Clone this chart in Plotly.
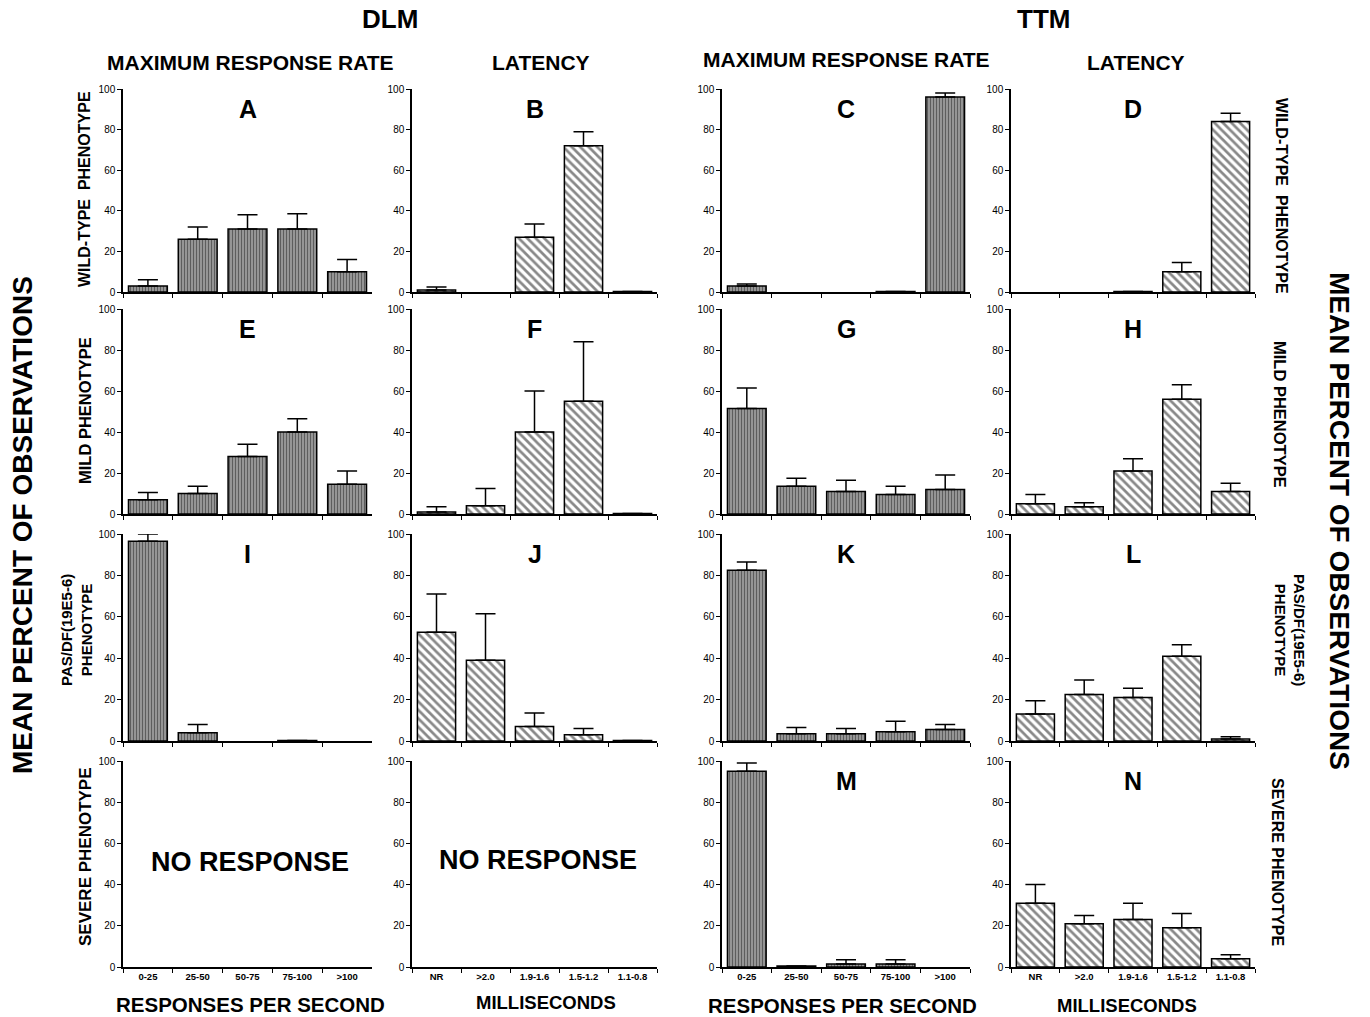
import plotly.graph_objects as go

W, H = 1370, 1017

rate_cats = ["0-25", "25-50", "50-75", "75-100", ">100"]
lat_cats = ["NR", ">2.0", "1.9-1.6", "1.5-1.2", "1.1-0.8"]

# panel values (mean %) and upper error (SE)
A_val = [3, 26, 31, 31, 10];        A_err = [3, 6, 7, 7.5, 6]
B_val = [1, 0, 27, 72, 0.3];        B_err = [1.5, None, 6.5, 7, None]
C_val = [3, 0, 0, 0.3, 96];         C_err = [1, None, None, None, 2]
D_val = [0, 0, 0.2, 10, 84];        D_err = [None, None, None, 4.5, 4]
E_val = [7, 10, 28, 40, 14.5];      E_err = [3.5, 3.5, 6, 6.5, 6.5]
F_val = [1, 4, 40, 55, 0.3];        F_err = [2.5, 8.5, 20, 29, None]
G_val = [51.5, 13.5, 11, 9.5, 12];  G_err = [10, 4, 5.5, 4, 7]
H_val = [5, 3.5, 21, 56, 11];       H_err = [4.5, 2, 6, 7, 4]
I_val = [96.5, 4, 0, 0.2, 0];       I_err = [3.5, 4, None, None, None]
J_val = [52.5, 39, 7, 3, 0.2];      J_err = [18.5, 22.5, 6.5, 3, None]
K_val = [82.5, 3.5, 3.5, 4.5, 5.5]; K_err = [4, 3, 2.5, 5, 2.5]
L_val = [13, 22.5, 21, 41, 1];      L_err = [6.5, 7, 4.5, 5.5, 1]
M_val = [95, 0.5, 1.5, 1.5, 0];     M_err = [4, None, 2, 2, None]
N_val = [31, 21, 23, 19, 4];        N_err = [9, 4, 8, 7, 2]
S_val = [0, 0, 0, 0, 0]             # severe DLM: no response

panels = [
    ["A", A_val, A_err], ["B", B_val, B_err], ["C", C_val, C_err], ["D", D_val, D_err],
    ["E", E_val, E_err], ["F", F_val, F_err], ["G", G_val, G_err], ["H", H_val, H_err],
    ["I", I_val, I_err], ["J", J_val, J_err], ["K", K_val, K_err], ["L", L_val, L_err],
    ["", S_val, [None]*5], ["", S_val, [None]*5], ["M", M_val, M_err], ["N", N_val, N_err],
]

col_px = [(123, 372), (412, 657), (722, 970), (1011, 1255)]
row_px = [(89, 292), (309, 514), (534, 741), (761, 967)]

FONT = "Liberation Sans, Arial, sans-serif"

fig = go.Figure()
annotations = []

for idx, (letter, vals, errs) in enumerate(panels):
    r, c = divmod(idx, 4)
    cats = rate_cats if c in (0, 2) else lat_cats
    n = idx + 1
    xa = "x" if n == 1 else f"x{n}"
    ya = "y" if n == 1 else f"y{n}"
    if c in (0, 2):
        pattern = dict(shape="|", fgcolor="#1a1a1a", bgcolor="#a0a0a0", size=3, solidity=0.45)
    else:
        pattern = dict(shape="\\", fgcolor="#111111", bgcolor="white", size=6, solidity=0.45)
    shown = [v if v else None for v in vals]
    fig.add_trace(go.Bar(
        x=cats, y=shown, xaxis=xa, yaxis=ya,
        marker=dict(color="white", line=dict(color="black", width=1.5), pattern=pattern),
        error_y=dict(type="data", symmetric=False, array=errs,
                     arrayminus=[0]*5, color="black", thickness=1.5, width=10),
        showlegend=False, hoverinfo="x+y",
    ))
    x0, x1 = col_px[c]
    y0, y1 = row_px[r]
    xdom = [x0 / W, x1 / W]
    ydom = [1 - y1 / H, 1 - y0 / H]
    xkey = "xaxis" if n == 1 else f"xaxis{n}"
    ykey = "yaxis" if n == 1 else f"yaxis{n}"
    fig.update_layout({
        xkey: dict(domain=xdom, anchor=ya, type="category", categoryarray=cats,
                   range=[-0.5, 4.5], showline=True, linecolor="black", linewidth=1.5,
                   ticks="outside", tickson="boundaries", ticklen=4, tickcolor="black",
                   showticklabels=(r == 3), showgrid=False, zeroline=False, automargin=False,
                   tickfont=dict(family=FONT, size=9.5, color="black"),
                   tickprefix="<b>", ticksuffix="</b>", fixedrange=True),
        ykey: dict(domain=ydom, anchor=xa, range=[0, 100], tickvals=[0, 20, 40, 60, 80, 100],
                   showline=True, linecolor="black", linewidth=1.5, ticks="outside",
                   ticklen=4, tickcolor="black", showgrid=False, zeroline=False, automargin=False,
                   tickfont=dict(family=FONT, size=10, color="black"), fixedrange=True),
    })
    if letter:
        annotations.append(dict(x=(x0 + x1) / 2 / W, y=1 - (y0 + 20) / H, xref="paper", yref="paper",
                                xanchor="center", yanchor="middle",
                                text=f"<b>{letter}</b>", showarrow=False,
                                font=dict(family=FONT, size=25, color="black")))

def txt(x, y, s, size, angle=0):
    annotations.append(dict(x=x / W, y=1 - y / H, xref="paper", yref="paper", text=f"<b>{s}</b>",
                            showarrow=False, textangle=angle, xanchor="center", yanchor="middle",
                            font=dict(family=FONT, size=size, color="black")))

txt(390, 19, "DLM", 26)
txt(1043, 19, "TTM", 26)
txt(250, 62, "MAXIMUM RESPONSE RATE", 21)
txt(541, 62, "LATENCY", 21)
txt(846, 60, "MAXIMUM RESPONSE RATE", 21)
txt(1136, 62, "LATENCY", 21)

txt(22, 525, "MEAN PERCENT OF OBSERVATIONS", 28, -90)
txt(1340, 521, "MEAN PERCENT OF OBSERVATIONS", 28, 90)

txt(84, 189, "WILD-TYPE  PHENOTYPE", 16, -90)
txt(85, 411, "MILD PHENOTYPE", 16.5, -90)
txt(76, 630, "PAS/DF(19E5-6)<br>PHENOTYPE", 15, -90)
txt(85, 857, "SEVERE PHENOTYPE", 17, -90)

txt(1282, 196, "WILD-TYPE  PHENOTYPE", 16, 90)
txt(1280, 414, "MILD PHENOTYPE", 16.5, 90)
txt(1290, 630, "PAS/DF(19E5-6)<br>PHENOTYPE", 15, 90)
txt(1278, 862, "SEVERE PHENOTYPE", 16, 90)

txt(250, 862, "NO RESPONSE", 27)
txt(538, 860, "NO RESPONSE", 27)

txt(250, 1004, "RESPONSES PER SECOND", 20.5)
txt(546, 1002, "MILLISECONDS", 18.5)
txt(842, 1005, "RESPONSES PER SECOND", 20.5)
txt(1127, 1005, "MILLISECONDS", 18.5)

fig.update_layout(
    width=W, height=H, margin=dict(l=0, r=0, t=0, b=0, pad=0, autoexpand=False),
    paper_bgcolor="white", plot_bgcolor="white", bargap=0.22,
    annotations=annotations, font=dict(family=FONT, color="black"),
)

fig.write_html("out.html", config={"displayModeBar": False},
               post_script="document.body.style.margin='0';document.body.style.overflow='hidden';")
